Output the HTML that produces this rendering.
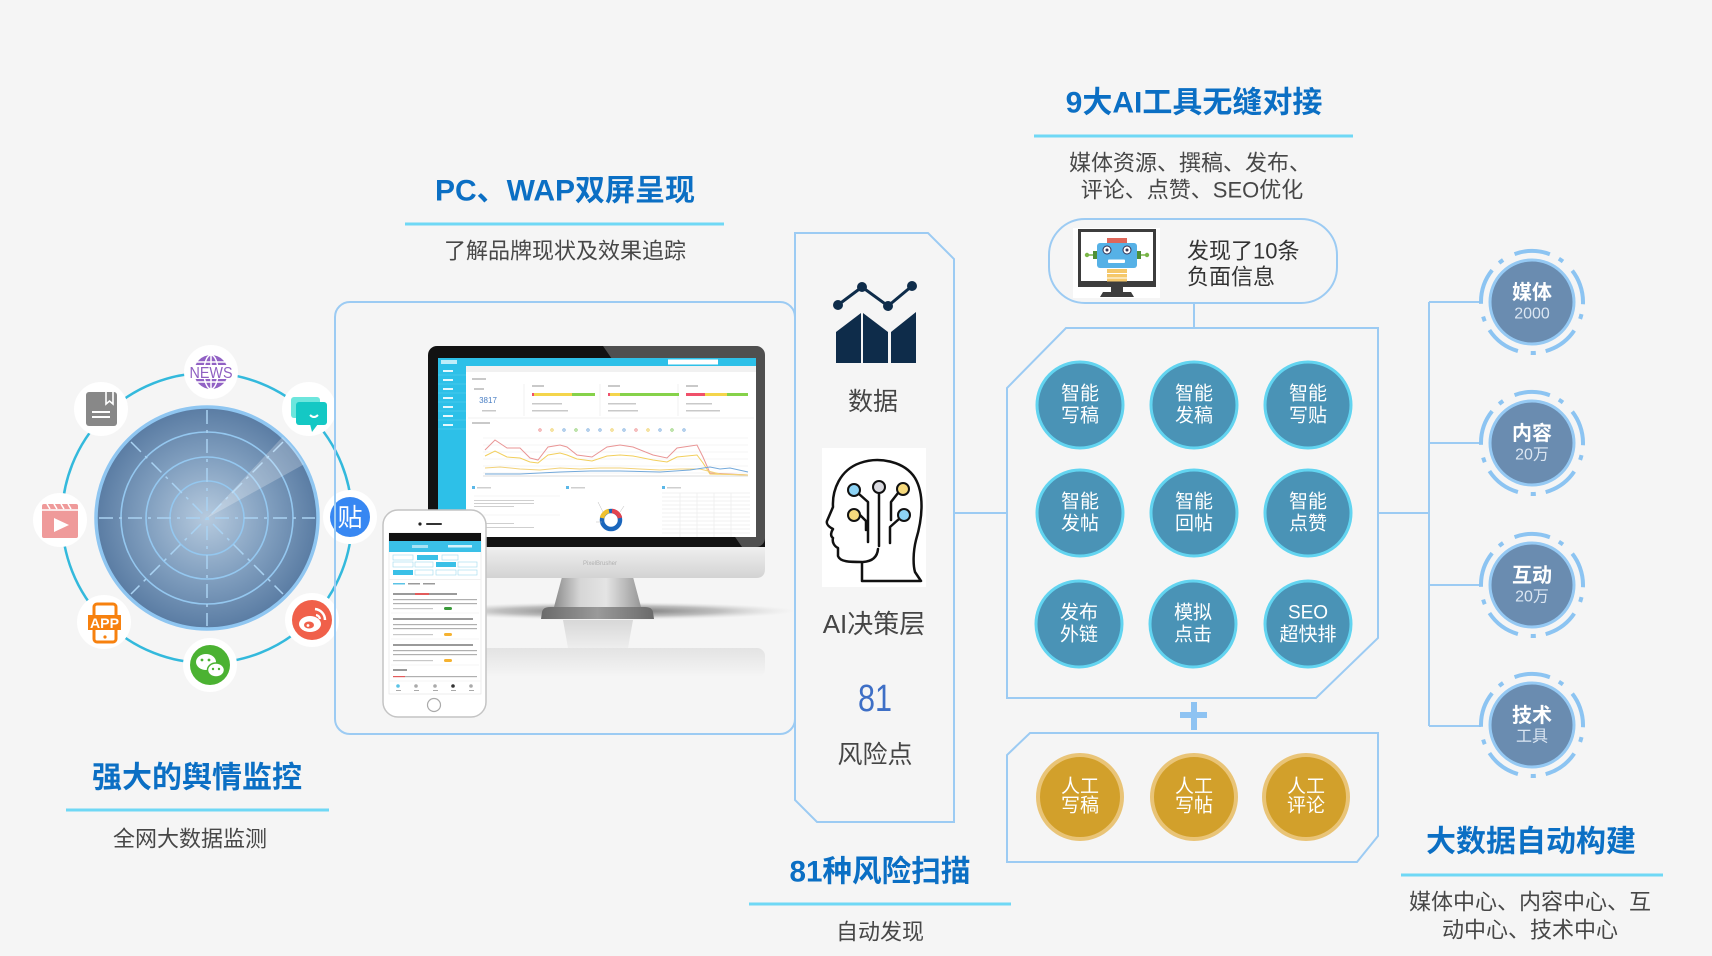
<!DOCTYPE html>
<html lang="zh"><head><meta charset="utf-8"><title>diagram</title>
<style>
html,body{margin:0;padding:0;background:#f5f5f5;width:1712px;height:956px;overflow:hidden}
svg{display:block}
text{font-family:"Liberation Sans","Noto Sans CJK SC",sans-serif}
.t{font-weight:bold;fill:#0b6fc4;font-size:30px}
.s{fill:#474747;font-size:22px}
.ln{stroke:#9ccbf3;stroke-width:2;fill:none}
.ul{stroke:#6fd8f5;stroke-width:3}
.bc text,.gc text{fill:#fff;font-size:19px}
</style></head><body>
<svg width="1712" height="956" viewBox="0 0 1712 956" xmlns="http://www.w3.org/2000/svg">
<defs>
<radialGradient id="rg" cx="0.5" cy="0.5" r="0.5">
<stop offset="0" stop-color="#b6cade"/>
<stop offset="0.55" stop-color="#819fbf"/>
<stop offset="1" stop-color="#5a7ca3"/>
</radialGradient>
<linearGradient id="chin" x1="0" y1="0" x2="0" y2="1">
<stop offset="0" stop-color="#efefef"/><stop offset="1" stop-color="#d3d3d3"/>
</linearGradient>
<linearGradient id="neck" x1="0" y1="0" x2="1" y2="0">
<stop offset="0" stop-color="#8c8c8c"/><stop offset="0.3" stop-color="#d6d6d6"/><stop offset="0.6" stop-color="#e4e4e4"/><stop offset="1" stop-color="#979797"/>
</linearGradient>
<linearGradient id="base" x1="0" y1="0" x2="1" y2="0">
<stop offset="0" stop-color="#6a6a6a"/><stop offset="0.5" stop-color="#9a9a9a"/><stop offset="1" stop-color="#6a6a6a"/>
</linearGradient>
<radialGradient id="shad" cx="0.5" cy="0.5" r="0.5">
<stop offset="0" stop-color="#555" stop-opacity="0.9"/><stop offset="0.6" stop-color="#888" stop-opacity="0.5"/><stop offset="1" stop-color="#ccc" stop-opacity="0"/>
</radialGradient>
<linearGradient id="ledge" x1="0" y1="0" x2="0" y2="1">
<stop offset="0" stop-color="#e3e3e3"/><stop offset="1" stop-color="#f5f5f5"/>
</linearGradient>
<linearGradient id="nrefl" x1="0" y1="0" x2="0" y2="1">
<stop offset="0" stop-color="#d0d0d0"/><stop offset="1" stop-color="#ececec"/>
</linearGradient>
<clipPath id="bz"><rect x="428" y="346" width="337" height="201" rx="9"/></clipPath>
</defs>
<rect width="1712" height="956" fill="#f5f5f5"/>

<!-- ================= LEFT: radar ================= -->
<circle cx="207" cy="518" r="145" fill="none" stroke="#33b9dc" stroke-width="2.5"/>
<circle cx="207" cy="518" r="111" fill="url(#rg)" stroke="#8fc6f1" stroke-width="3.5"/>
<g stroke="#94c7ef" stroke-width="1.6" fill="none">
<circle cx="207" cy="518" r="86"/><circle cx="207" cy="518" r="61"/><circle cx="207" cy="518" r="37"/>
</g>
<g stroke="#a9d2f2" stroke-width="1.5" stroke-dasharray="14 6 3 6" fill="none">
<line x1="207" y1="410" x2="207" y2="626"/>
<line x1="99" y1="518" x2="315" y2="518"/>
<line x1="131" y1="442" x2="283" y2="594"/>
<line x1="283" y1="442" x2="131" y2="594"/>
</g>
<path d="M207,518 L304.1,464.2 A111,111 0 0 0 282.7,436.8 Z" fill="#fff" opacity="0.24"/>

<!-- icons -->
<g transform="translate(211,372)">
<circle r="27" fill="#fff"/>
<circle r="17" fill="#9161c4"/>
<g stroke="#fff" stroke-width="1.5" fill="none">
<ellipse rx="7" ry="17"/><line x1="0" y1="-17" x2="0" y2="17"/>
<line x1="-14" y1="-10" x2="14" y2="-10"/><line x1="-14" y1="10" x2="14" y2="10"/>
</g>
<rect x="-23" y="-7" width="46" height="14" fill="#fff"/>
<text x="0" y="6" text-anchor="middle" font-size="16" fill="#8f5fc2" textLength="43" lengthAdjust="spacingAndGlyphs">NEWS</text>
</g>
<g transform="translate(101,409)">
<circle r="27" fill="#fff"/>
<rect x="-15" y="-17" width="31" height="34" rx="3" fill="#888"/>
<path d="M5,-17 V-5 L8.5,-8 L12,-5 V-17" fill="none" stroke="#fff" stroke-width="1.6"/>
<line x1="-9" y1="3" x2="9" y2="3" stroke="#fff" stroke-width="2"/>
<line x1="-9" y1="8" x2="9" y2="8" stroke="#fff" stroke-width="2"/>
</g>
<g transform="translate(309,409)">
<circle r="27" fill="#fff"/>
<rect x="-18" y="-12" width="29" height="21" rx="3" fill="#6de6dd"/>
<rect x="-13" y="-7" width="31" height="23" rx="3" fill="#14c8c4"/>
<polygon points="1,15 9,15 3,23" fill="#14c8c4"/>
<path d="M1,6 Q5,10 9,6" fill="none" stroke="#fff" stroke-width="2"/>
</g>
<g transform="translate(60,520)">
<circle r="27" fill="#fff"/>
<rect x="-18" y="-16" width="36" height="34" rx="2" fill="#ef9a9a"/>
<g stroke="#fff" stroke-width="1.5"><line x1="-18" y1="-10" x2="18" y2="-10"/>
<line x1="-13" y1="-16" x2="-10" y2="-11"/><line x1="-6" y1="-16" x2="-3" y2="-11"/><line x1="1" y1="-16" x2="4" y2="-11"/><line x1="8" y1="-16" x2="11" y2="-11"/></g>
<polygon points="-6,-2 9,5 -6,12" fill="#fff"/>
</g>
<g transform="translate(350,517)">
<circle r="27" fill="#fff"/>
<circle r="20" fill="#3787f2"/>
<text x="0" y="1" text-anchor="middle" dominant-baseline="central" font-size="25" fill="#fff">贴</text>
</g>
<g transform="translate(104,622)">
<circle r="27" fill="#fff"/>
<rect x="-10" y="-18" width="22" height="38" rx="3" fill="#fff" stroke="#f7810f" stroke-width="3"/>
<rect x="-16" y="-7" width="33" height="15" fill="#f7810f"/>
<text x="0.5" y="6" text-anchor="middle" font-size="14" font-weight="bold" fill="#fff" textLength="29" lengthAdjust="spacingAndGlyphs">APP</text>
<circle cx="1" cy="15" r="1.6" fill="#f7810f"/>
</g>
<g transform="translate(312,620)">
<circle r="27" fill="#fff"/>
<circle r="20" fill="#f0604a"/>
<ellipse cx="-2" cy="4" rx="11" ry="8" fill="#fff"/>
<ellipse cx="-3" cy="5" rx="5" ry="3.5" fill="#f0604a"/>
<circle cx="-4" cy="5.5" r="1.4" fill="#fff"/>
<path d="M3,-11 A11,11 0 0 1 13,0" fill="none" stroke="#fff" stroke-width="2.5"/>
<path d="M4,-5 A5,5 0 0 1 8,-1" fill="none" stroke="#fff" stroke-width="2.2"/>
</g>
<g transform="translate(210,665)">
<circle r="27" fill="#fff"/>
<circle r="20" fill="#4bb232"/>
<ellipse cx="-4" cy="-3" rx="10" ry="8" fill="#fff"/>
<ellipse cx="6" cy="5" rx="8.5" ry="7" fill="#fff" stroke="#4bb232" stroke-width="1.5"/>
<circle cx="-8" cy="-5" r="1.4" fill="#4bb232"/><circle cx="-1" cy="-5" r="1.4" fill="#4bb232"/>
<circle cx="3" cy="4" r="1.2" fill="#4bb232"/><circle cx="9" cy="4" r="1.2" fill="#4bb232"/>
</g>

<text x="197" y="778" class="t" text-anchor="middle" dominant-baseline="central">强大的舆情监控</text>
<line x1="66" y1="810" x2="329" y2="810" class="ul"/>
<text x="190" y="839" class="s" text-anchor="middle" dominant-baseline="central">全网大数据监测</text>

<!-- ================= PC section ================= -->
<text x="565" y="191" class="t" text-anchor="middle" dominant-baseline="central">PC、WAP双屏呈现</text>
<line x1="405" y1="224" x2="724" y2="224" class="ul"/>
<text x="565" y="251" class="s" text-anchor="middle" dominant-baseline="central">了解品牌现状及效果追踪</text>
<rect x="335" y="302" width="460" height="432" rx="15" class="ln"/>

<!-- monitor -->
<ellipse cx="610" cy="611" rx="185" ry="9" fill="url(#shad)"/>
<rect x="472" y="648" width="293" height="29" rx="8" fill="url(#ledge)"/>
<polygon points="563,620 633,620 628,648 568,648" fill="url(#nrefl)" opacity="0.8"/>
<polygon points="562,577 633,577 641,607 554,607" fill="url(#neck)"/>
<path d="M550,607 H645 Q652,607 653,612 L654,619 H541 L542,612 Q543,607 550,607 Z" fill="url(#base)"/>
<rect x="428" y="346" width="337" height="210" rx="9" fill="#121212"/>
<polygon points="603,346 765,346 765,547 742,547" fill="#fff" opacity="0.26" clip-path="url(#bz)"/>
<path d="M428,547 H765 V569 Q765,578 756,578 H437 Q428,578 428,569 Z" fill="url(#chin)"/>
<text x="600" y="565" text-anchor="middle" font-size="6" fill="#b0b0b0">PixelBrusher</text>
<!-- screen -->
<rect x="438" y="358" width="318" height="179" fill="#fff"/>
<rect x="438" y="358" width="318" height="8" fill="#2dc0e8"/>
<rect x="438" y="366" width="28" height="171" fill="#2dc0e8"/>
<rect x="668" y="359.5" width="50" height="5" fill="#fff"/>
<rect x="441" y="360" width="16" height="4" fill="#bfeefa"/>
<g fill="#e6f8fd">
<rect x="443" y="370" width="10" height="2"/><rect x="443" y="379" width="10" height="2"/><rect x="443" y="388" width="10" height="2"/><rect x="443" y="397" width="10" height="2"/><rect x="443" y="406" width="10" height="2"/><rect x="443" y="415" width="10" height="2"/><rect x="443" y="424" width="10" height="2"/>
</g>
<g stroke="#5fd0ef" stroke-width="0.6"><line x1="438" y1="375" x2="466" y2="375"/><line x1="438" y1="384" x2="466" y2="384"/><line x1="438" y1="393" x2="466" y2="393"/><line x1="438" y1="402" x2="466" y2="402"/><line x1="438" y1="411" x2="466" y2="411"/><line x1="438" y1="420" x2="466" y2="420"/><line x1="438" y1="429" x2="466" y2="429"/></g>
<rect x="466" y="366" width="290" height="6" fill="#f1f1f1"/>
<g fill="#c9c9c9">
<rect x="472" y="378" width="14" height="2"/>
<rect x="474" y="388" width="10" height="2"/><rect x="482" y="410" width="14" height="1.5"/>
<rect x="532" y="385" width="12" height="2"/><rect x="608" y="385" width="12" height="2"/><rect x="686" y="385" width="12" height="2"/>
<rect x="532" y="403" width="30" height="1.5"/><rect x="532" y="410" width="36" height="1.5"/>
<rect x="608" y="403" width="28" height="1.5"/><rect x="608" y="410" width="30" height="1.5"/>
<rect x="686" y="403" width="26" height="1.5"/><rect x="686" y="410" width="34" height="1.5"/>
<rect x="472" y="422" width="18" height="2"/>
</g>
<text x="488" y="403" text-anchor="middle" font-size="8" fill="#4a7fc4">3817</text>
<g stroke="#ececec" stroke-width="0.7"><line x1="524" y1="384" x2="524" y2="416"/><line x1="600" y1="384" x2="600" y2="416"/><line x1="678" y1="384" x2="678" y2="416"/><line x1="468" y1="418" x2="754" y2="418"/></g>
<rect x="532" y="393" width="2" height="3" fill="#f0506a"/><rect x="534" y="393" width="38" height="3" fill="#f4d54b"/><rect x="572" y="393" width="23" height="3" fill="#86d24a"/>
<rect x="608" y="393" width="2" height="3" fill="#f0506a"/><rect x="610" y="393" width="10" height="3" fill="#f4d54b"/><rect x="620" y="393" width="59" height="3" fill="#86d24a"/>
<rect x="686" y="393" width="19" height="3" fill="#f0506a"/><rect x="705" y="393" width="22" height="3" fill="#f4d54b"/><rect x="727" y="393" width="21" height="3" fill="#86d24a"/>
<g fill="none" stroke-width="0.8">
<circle cx="540" cy="430" r="1.2" stroke="#e88"/><circle cx="552" cy="430" r="1.2" stroke="#ec5"/><circle cx="564" cy="430" r="1.2" stroke="#7ad"/><circle cx="576" cy="430" r="1.2" stroke="#8c6"/><circle cx="588" cy="430" r="1.2" stroke="#7ad"/><circle cx="600" cy="430" r="1.2" stroke="#7ad"/><circle cx="612" cy="430" r="1.2" stroke="#ec5"/><circle cx="624" cy="430" r="1.2" stroke="#7ad"/><circle cx="636" cy="430" r="1.2" stroke="#e88"/><circle cx="648" cy="430" r="1.2" stroke="#ec5"/><circle cx="660" cy="430" r="1.2" stroke="#7ad"/><circle cx="672" cy="430" r="1.2" stroke="#8c6"/><circle cx="684" cy="430" r="1.2" stroke="#7ad"/>
</g>
<g stroke="#eeeeee" stroke-width="0.6"><line x1="483" y1="438" x2="748" y2="438"/><line x1="483" y1="445" x2="748" y2="445"/><line x1="483" y1="452" x2="748" y2="452"/><line x1="483" y1="459" x2="748" y2="459"/><line x1="483" y1="466" x2="748" y2="466"/><line x1="483" y1="473" x2="748" y2="473"/></g>
<line x1="483" y1="476" x2="748" y2="476" stroke="#bbb" stroke-width="0.6"/>
<g fill="none" stroke-width="1">
<polyline stroke="#e99595" points="485,450 495,440 507,448 520,448 530,458 538,460 548,447 560,445 567,447 577,455 592,457 607,447 620,445 633,447 653,455 667,458 677,448 697,445 703,457 710,473 748,475"/>
<polyline stroke="#f2cf5c" points="485,456 495,451 507,457 520,458 530,462 538,463 548,455 560,453 567,455 577,459 592,461 607,456 620,455 633,456 653,460 667,462 677,457 697,455 703,463 710,474 748,475"/>
<polyline stroke="#f2d27a" points="485,468 500,467 520,469 540,470 560,468 580,469 600,468 620,468 640,469 660,470 680,469 700,469 720,474 748,475"/>
<polyline stroke="#74a9da" points="485,474 520,474 560,472 590,471 620,471 660,472 690,470 710,467 720,469 730,468 748,472"/>
</g>
<g fill="#5bb8e8"><rect x="472" y="486" width="3" height="3"/><rect x="566" y="486" width="3" height="3"/><rect x="662" y="486" width="3" height="3"/></g>
<g fill="#cfcfcf"><rect x="477" y="487" width="14" height="1.5"/><rect x="571" y="487" width="14" height="1.5"/><rect x="667" y="487" width="14" height="1.5"/>
<rect x="474" y="500" width="60" height="1"/><rect x="474" y="503" width="60" height="1"/><rect x="474" y="506" width="40" height="1"/>
<rect x="474" y="523" width="40" height="1"/><rect x="474" y="527" width="60" height="1"/></g>
<g stroke="#ececec" stroke-width="0.6"><line x1="474" y1="496" x2="560" y2="496"/><line x1="474" y1="515" x2="560" y2="515"/></g>
<circle cx="611" cy="520" r="9" fill="none" stroke="#1a66bc" stroke-width="4.5"/>
<path d="M602,518 A9,9 0 0 1 609,511" fill="none" stroke="#f0c12e" stroke-width="4.5"/>
<path d="M612,511 A9,9 0 0 1 620,518" fill="none" stroke="#e2434e" stroke-width="4.5"/>
<g stroke="#bbb" stroke-width="0.5"><line x1="598" y1="502" x2="603" y2="512"/><line x1="624" y1="506" x2="620" y2="512"/><line x1="596" y1="522" x2="602" y2="522"/></g>
<g stroke="#e5e5e5" stroke-width="0.5">
<line x1="662" y1="493" x2="750" y2="493"/><line x1="662" y1="497" x2="750" y2="497"/><line x1="662" y1="501" x2="750" y2="501"/><line x1="662" y1="505" x2="750" y2="505"/><line x1="662" y1="509" x2="750" y2="509"/><line x1="662" y1="513" x2="750" y2="513"/><line x1="662" y1="517" x2="750" y2="517"/><line x1="662" y1="521" x2="750" y2="521"/><line x1="662" y1="525" x2="750" y2="525"/><line x1="662" y1="529" x2="750" y2="529"/><line x1="662" y1="533" x2="750" y2="533"/>
<line x1="680" y1="493" x2="680" y2="537"/><line x1="697" y1="493" x2="697" y2="537"/><line x1="714" y1="493" x2="714" y2="537"/><line x1="731" y1="493" x2="731" y2="537"/>
</g>

<!-- phone -->
<rect x="383" y="510" width="103" height="207" rx="15" fill="#fff" stroke="#c4c4c4" stroke-width="1.5"/>
<circle cx="420" cy="524" r="1.6" fill="#222"/>
<rect x="426" y="523" width="16" height="2" rx="1" fill="#333"/>
<rect x="389" y="533" width="92" height="161" fill="#fff" stroke="#e2e2e2" stroke-width="0.6"/>
<rect x="389" y="533" width="92" height="8" fill="#111"/>
<rect x="389" y="541" width="92" height="11" fill="#3ac0e7"/>
<rect x="412" y="545" width="16" height="3" fill="#a7e3f5"/><rect x="448" y="545" width="24" height="2.5" fill="#d6f3fb"/>
<g fill="#fff" stroke="#9fd9ef" stroke-width="0.6">
<rect x="393" y="555" width="20" height="5"/><rect x="442" y="555" width="16" height="5"/>
<rect x="393" y="562" width="20" height="5"/><rect x="415" y="562" width="18" height="5"/><rect x="458" y="562" width="19" height="5"/>
<rect x="415" y="570" width="18" height="5"/><rect x="436" y="570" width="20" height="5"/><rect x="458" y="570" width="19" height="5"/>
</g>
<g fill="#3ac0e7"><rect x="417" y="555" width="21" height="5"/><rect x="436" y="562" width="20" height="5"/><rect x="393" y="570" width="20" height="5"/></g>
<rect x="389" y="579" width="92" height="1" fill="#f0f0f0"/>
<g fill="#9a9a9a">
<rect x="393" y="583" width="12" height="1.5" fill="#5bc3e6"/><rect x="408" y="583" width="12" height="1.5"/><rect x="423" y="583" width="12" height="1.5"/>
<rect x="393" y="593" width="22" height="2"/><rect x="415" y="593" width="14" height="2" fill="#e25b5b"/><rect x="429" y="593" width="28" height="2"/>
<rect x="393" y="599" width="84" height="1.2" fill="#b0b0b0"/><rect x="393" y="603" width="84" height="1.2" fill="#b0b0b0"/>
<rect x="393" y="608" width="40" height="1.2" fill="#c8c8c8"/><rect x="444" y="607" width="8" height="3" rx="1.5" fill="#3a9a3a"/>
<rect x="393" y="618" width="80" height="2"/>
<rect x="393" y="624" width="84" height="1.2" fill="#b0b0b0"/><rect x="393" y="628" width="84" height="1.2" fill="#b0b0b0"/>
<rect x="393" y="634" width="40" height="1.2" fill="#c8c8c8"/><rect x="444" y="633" width="8" height="3" rx="1.5" fill="#f5b230"/>
<rect x="393" y="644" width="80" height="2"/>
<rect x="393" y="650" width="84" height="1.2" fill="#b0b0b0"/><rect x="393" y="654" width="84" height="1.2" fill="#b0b0b0"/>
<rect x="393" y="660" width="40" height="1.2" fill="#c8c8c8"/><rect x="444" y="659" width="8" height="3" rx="1.5" fill="#f5b230"/>
<rect x="393" y="669" width="14" height="2"/>
<rect x="393" y="676" width="12" height="1.2" fill="#e25b5b"/><rect x="405" y="676" width="72" height="1.2" fill="#b0b0b0"/>
</g>
<g stroke="#eeeeee" stroke-width="0.6"><line x1="391" y1="613" x2="479" y2="613"/><line x1="391" y1="639" x2="479" y2="639"/><line x1="391" y1="665" x2="479" y2="665"/><line x1="389" y1="681" x2="481" y2="681"/></g>
<g fill="#aaa"><circle cx="398" cy="686" r="1.8" fill="#5bc3e6"/><circle cx="416" cy="686" r="1.8"/><circle cx="435" cy="686" r="1.8"/><circle cx="453" cy="686" r="1.8" fill="#333"/><circle cx="471" cy="686" r="1.8"/>
<rect x="396" y="690" width="5" height="1"/><rect x="414" y="690" width="5" height="1"/><rect x="433" y="690" width="5" height="1"/><rect x="451" y="690" width="5" height="1"/><rect x="469" y="690" width="5" height="1"/></g>
<circle cx="434" cy="705" r="6.5" fill="#fff" stroke="#aaa" stroke-width="1.2"/>

<!-- ================= Data column ================= -->
<polygon points="795,233 928,233 954,259 954,822 817,822 795,800" class="ln"/>
<g fill="#0e2c4a">
<polyline points="838,305 862,287 888,306 912,286" fill="none" stroke="#0e2c4a" stroke-width="3"/>
<circle cx="838" cy="305" r="5"/><circle cx="862" cy="287" r="5"/><circle cx="888" cy="306" r="5"/><circle cx="912" cy="286" r="5"/>
<polygon points="836,332 861,313 861,363 836,363"/>
<polygon points="863,313 888,332 888,363 863,363"/>
<polygon points="891,332 916,312 916,363 891,363"/>
</g>
<text x="873" y="402" text-anchor="middle" dominant-baseline="central" font-size="25" fill="#454545">数据</text>
<rect x="822" y="448" width="104" height="139" fill="#fff"/>
<g fill="none" stroke="#111" stroke-width="2.5" stroke-linejoin="round" stroke-linecap="round">
<path d="M862,581 L862,562 C850,562 840,562 838,556 L838,548 C834,546 832,542 833,538 C830,536 831,532 833,529 C829,527 826,524 827,521 L833,507 C832,490 840,470 860,463 C880,456 905,462 915,478 C925,495 922,520 916,540 C913,552 913,565 915,572 L921,581 Z"/>
<path d="M878,549 Q877,561 863,562"/>
<line x1="879" y1="493" x2="879" y2="546"/>
<polyline points="859,494 868,502 868,542"/>
<polyline points="898,493 891,502 891,520"/>
<polyline points="860,515 866,521 866,530"/>
<polyline points="899,519 890,527 890,543"/>
</g>
<g stroke="#111" stroke-width="2">
<circle cx="879" cy="487" r="6" fill="#d9d9df"/>
<circle cx="854" cy="490" r="6" fill="#8dd3f5"/>
<circle cx="903" cy="489" r="6" fill="#f6d97c"/>
<circle cx="854" cy="515" r="6" fill="#f6d97c"/>
<circle cx="904" cy="515" r="6" fill="#8dd3f5"/>
</g>
<text x="874" y="624" text-anchor="middle" dominant-baseline="central" font-size="26" fill="#454545">AI决策层</text>
<text x="875" y="699" text-anchor="middle" dominant-baseline="central" font-size="38" fill="#3e6fc6" textLength="34" lengthAdjust="spacingAndGlyphs">81</text>
<text x="875" y="755" text-anchor="middle" dominant-baseline="central" font-size="25" fill="#454545">风险点</text>

<text x="880" y="872" class="t" text-anchor="middle" dominant-baseline="central" font-size="32" textLength="181" lengthAdjust="spacingAndGlyphs">81种风险扫描</text>
<line x1="749" y1="904" x2="1011" y2="904" class="ul"/>
<text x="880" y="932" class="s" text-anchor="middle" dominant-baseline="central">自动发现</text>

<!-- connector data -> tools -->
<line x1="954" y1="513" x2="1007" y2="513" class="ln"/>

<!-- ================= 9 AI tools ================= -->
<text x="1194" y="103" class="t" text-anchor="middle" dominant-baseline="central">9大AI工具无缝对接</text>
<line x1="1034" y1="136" x2="1353" y2="136" class="ul"/>
<text x="1190" y="163" class="s" text-anchor="middle" dominant-baseline="central">媒体资源、撰稿、发布、</text>
<text x="1192" y="190" class="s" text-anchor="middle" dominant-baseline="central">评论、点赞、SEO优化</text>

<rect x="1049" y="219" width="288" height="84" rx="36" class="ln"/>
<rect x="1073" y="228" width="87" height="70" fill="#fff"/>
<rect x="1079.5" y="230.5" width="75" height="54" fill="#fff" stroke="#3d3d3d" stroke-width="3"/>
<rect x="1078" y="281" width="78" height="6" fill="#3d3d3d"/>
<rect x="1111" y="287" width="12" height="6" fill="#3d3d3d"/>
<polygon points="1103,292 1131,292 1134,297 1100,297" fill="#3d3d3d"/>
<line x1="1087" y1="255" x2="1147" y2="255" stroke="#7ab648" stroke-width="1.5"/>
<circle cx="1087" cy="255" r="2.2" fill="#7ab648"/><circle cx="1147" cy="255" r="2.2" fill="#7ab648"/>
<rect x="1093" y="251" width="5" height="8" fill="#4f8f36"/><rect x="1136" y="251" width="5" height="8" fill="#4f8f36"/>
<rect x="1107" y="238" width="20" height="6" fill="#e0675a"/>
<rect x="1097" y="243" width="40" height="25" rx="3" fill="#56b1e6"/>
<circle cx="1107" cy="250" r="4" fill="#fff" stroke="#335" stroke-width="1"/><circle cx="1107" cy="250" r="1.5" fill="#335"/>
<circle cx="1127" cy="250" r="4" fill="#fff" stroke="#335" stroke-width="1"/><circle cx="1127" cy="250" r="1.5" fill="#335"/>
<rect x="1108" y="259.5" width="17" height="3.5" rx="1" fill="#fff"/>
<rect x="1107" y="269" width="20" height="4" fill="#f5c86a"/><rect x="1107" y="274" width="20" height="3.5" fill="#f5c86a"/><rect x="1107" y="278.5" width="20" height="3" fill="#f5c86a"/>
<text x="1187" y="251" dominant-baseline="central" font-size="22" fill="#333">发现了10条</text>
<text x="1187" y="277" dominant-baseline="central" font-size="22" fill="#333">负面信息</text>
<line x1="1194" y1="303" x2="1194" y2="328" class="ln"/>

<polygon points="1066,328 1378,328 1378,638 1316,698 1007,698 1007,388" class="ln"/>
<g class="bc">
<g fill="#4a93b6" stroke="#62d4f0" stroke-width="3">
<circle cx="1080" cy="405" r="43"/><circle cx="1194" cy="405" r="43"/><circle cx="1308" cy="405" r="43"/>
<circle cx="1080" cy="513" r="43"/><circle cx="1194" cy="513" r="43"/><circle cx="1308" cy="513" r="43"/>
<circle cx="1079" cy="624" r="43"/><circle cx="1193" cy="624" r="43"/><circle cx="1308" cy="624" r="43"/>
</g>
<g text-anchor="middle" dominant-baseline="central">
<text x="1080" y="394">智能</text><text x="1080" y="416">写稿</text>
<text x="1194" y="394">智能</text><text x="1194" y="416">发稿</text>
<text x="1308" y="394">智能</text><text x="1308" y="416">写贴</text>
<text x="1080" y="502">智能</text><text x="1080" y="524">发帖</text>
<text x="1194" y="502">智能</text><text x="1194" y="524">回帖</text>
<text x="1308" y="502">智能</text><text x="1308" y="524">点赞</text>
<text x="1079" y="613">发布</text><text x="1079" y="635">外链</text>
<text x="1193" y="613">模拟</text><text x="1193" y="635">点击</text>
<text x="1308" y="613">SEO</text><text x="1308" y="635">超快排</text>
</g>
</g>

<rect x="1180" y="712" width="27" height="6" fill="#8ec3f2"/>
<rect x="1191" y="702" width="6" height="28" fill="#8ec3f2"/>

<polygon points="1030,733 1378,733 1378,836 1357,862 1007,862 1007,755" class="ln"/>
<g class="gc">
<g fill="#d2a02b" stroke="#e9c477" stroke-width="4">
<circle cx="1080" cy="797" r="42"/><circle cx="1194" cy="797" r="42"/><circle cx="1306" cy="797" r="42"/>
</g>
<g text-anchor="middle" dominant-baseline="central" style="font-size:18px">
<text x="1080" y="787">人工</text><text x="1080" y="806">写稿</text>
<text x="1194" y="787">人工</text><text x="1194" y="806">写帖</text>
<text x="1306" y="787">人工</text><text x="1306" y="806">评论</text>
</g>
</g>

<!-- ================= Right ================= -->
<polyline points="1378,513 1429,513" class="ln"/>
<line x1="1429" y1="302" x2="1429" y2="726" class="ln"/>
<g class="ln">
<line x1="1429" y1="302" x2="1481" y2="302"/><line x1="1429" y1="443" x2="1481" y2="443"/>
<line x1="1429" y1="585" x2="1481" y2="585"/><line x1="1429" y1="726" x2="1481" y2="726"/>
</g>
<g>
<g fill="none" stroke="#8cc4f2" stroke-width="4" stroke-dasharray="36 10 5 13">
<circle cx="1532" cy="302" r="51" transform="rotate(-110 1532 302)"/>
<circle cx="1532" cy="443" r="51" transform="rotate(-110 1532 443)"/>
<circle cx="1532" cy="585" r="51" transform="rotate(-110 1532 585)"/>
<circle cx="1532" cy="725" r="51" transform="rotate(-110 1532 725)"/>
</g>
<g fill="#6a8cb0" stroke="#95c9f3" stroke-width="3">
<circle cx="1532" cy="302" r="42"/><circle cx="1532" cy="443" r="42"/><circle cx="1532" cy="585" r="42"/><circle cx="1532" cy="725" r="42"/>
</g>
<g text-anchor="middle" dominant-baseline="central">
<text x="1532" y="293" font-size="20" font-weight="bold" fill="#fff">媒体</text>
<text x="1532" y="314" font-size="16" fill="#dbe6f2">2000</text>
<text x="1532" y="434" font-size="20" font-weight="bold" fill="#fff">内容</text>
<text x="1532" y="455" font-size="16" fill="#dbe6f2">20万</text>
<text x="1532" y="576" font-size="20" font-weight="bold" fill="#fff">互动</text>
<text x="1532" y="597" font-size="16" fill="#dbe6f2">20万</text>
<text x="1532" y="716" font-size="20" font-weight="bold" fill="#fff">技术</text>
<text x="1532" y="737" font-size="16" fill="#dbe6f2">工具</text>
</g>
</g>

<text x="1531" y="842" class="t" text-anchor="middle" dominant-baseline="central">大数据自动构建</text>
<line x1="1401" y1="875" x2="1663" y2="875" class="ul"/>
<text x="1530" y="902" class="s" text-anchor="middle" dominant-baseline="central">媒体中心、内容中心、互</text>
<text x="1530" y="930" class="s" text-anchor="middle" dominant-baseline="central">动中心、技术中心</text>
</svg>
</body></html>
